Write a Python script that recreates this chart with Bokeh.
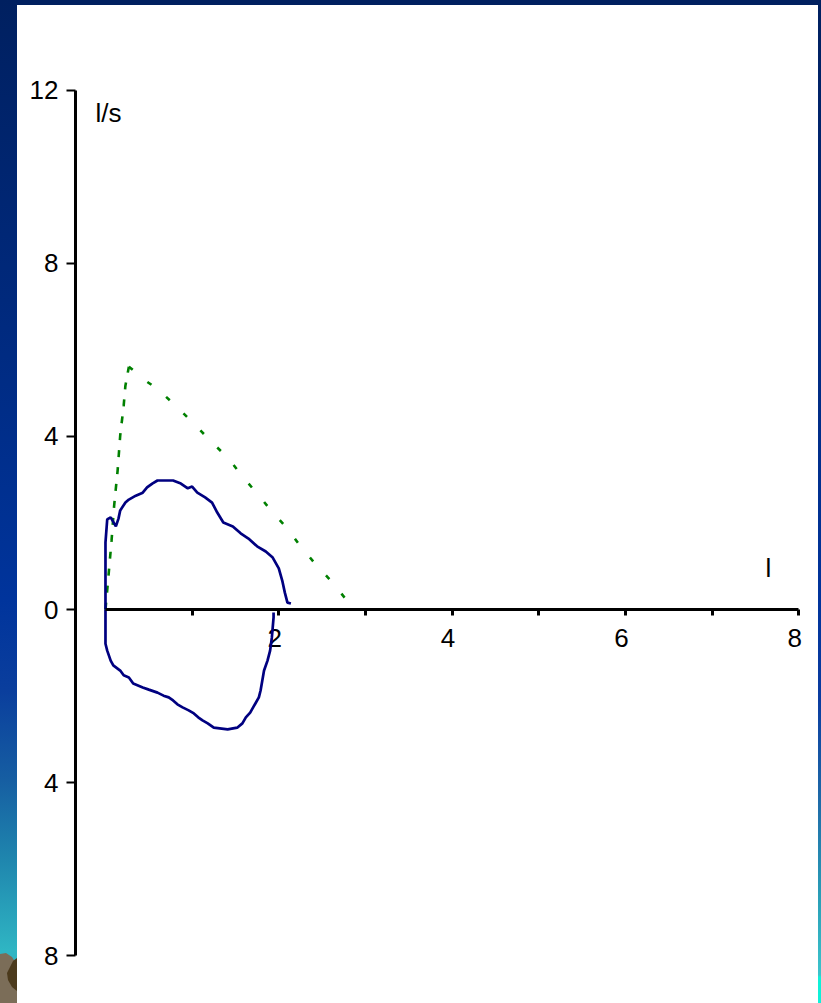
import numpy as np
from bokeh.plotting import figure
from bokeh.layouts import row, column
from bokeh.models import Range1d, FixedTicker, Label, Div
from bokeh.core.properties import value
from bokeh.embed import file_html
from bokeh.resources import INLINE

# ---------------- data ----------------
# expiratory limb (volume l, flow l/s)
exp_vol = [0.0, 0.0, 0.02, 0.06, 0.12, 0.15, 0.17, 0.23, 0.27, 0.35, 0.43, 0.48, 0.54, 0.60,
           0.78, 0.87, 0.95, 1.00, 1.06, 1.15, 1.23, 1.29, 1.36, 1.47, 1.56, 1.65, 1.75,
           1.85, 1.93, 2.00, 2.04, 2.07, 2.10, 2.14]
exp_flow = [0.0, 1.55, 2.08, 2.13, 1.92, 2.10, 2.29, 2.47, 2.54, 2.63, 2.70, 2.82, 2.91, 2.98,
            2.98, 2.91, 2.80, 2.84, 2.70, 2.59, 2.47, 2.24, 2.01, 1.92, 1.76, 1.64, 1.46,
            1.34, 1.20, 0.95, 0.67, 0.39, 0.16, 0.14]

# inspiratory limb
insp_vol = [0.0, 0.0, 0.02, 0.06, 0.09, 0.17, 0.21, 0.27, 0.32, 0.43, 0.50, 0.60, 0.67, 0.73,
            0.78, 0.83, 0.89, 0.96, 1.02, 1.07, 1.12, 1.18, 1.25, 1.41, 1.52, 1.58, 1.62,
            1.67, 1.73, 1.77, 1.79, 1.81, 1.83, 1.87, 1.90, 1.92, 1.93, 1.94, 1.94]
insp_flow = [0.0, -0.79, -0.95, -1.18, -1.29, -1.41, -1.52, -1.57, -1.71, -1.80, -1.85, -1.92,
             -1.99, -2.03, -2.10, -2.19, -2.26, -2.33, -2.40, -2.49, -2.56, -2.63, -2.73,
             -2.77, -2.73, -2.63, -2.49, -2.38, -2.17, -2.03, -1.87, -1.64, -1.41, -1.18,
             -0.95, -0.65, -0.42, -0.18, -0.07]

# predicted expiratory curve
pred_vol = [0.0, 0.03, 0.07, 0.10, 0.14, 0.17, 0.21, 0.23, 0.27, 0.42, 0.46, 0.61, 0.83, 1.04,
            1.23, 1.42, 1.59, 1.75, 1.93, 2.10, 2.25, 2.42, 2.60, 2.77, 2.80]
pred_flow = [0.0, 0.67, 1.59, 2.40, 3.21, 4.02, 4.71, 5.17, 5.61, 5.36, 5.29, 5.08, 4.67, 4.25,
             3.86, 3.49, 3.05, 2.68, 2.24, 1.87, 1.46, 1.06, 0.67, 0.25, 0.18]

y_ticks = [-8, -4, 0, 4, 8, 12]
y_tick_labels = ["8", "4", "0", "4", "8", "12"]
x_ticks = [1, 2, 3, 4, 5, 6, 7, 8]
x_label_vals = [2, 4, 6, 8]
x_label_text = ["2", "4", "6", "8"]

FONT = "Liberation Sans"
NAVY = "#000080"
GREEN = "#008000"

# ---------------- main chart ----------------
p = figure(width=801, height=998, output_backend="svg", toolbar_location=None,
           x_range=Range1d(-0.346, 8.229), y_range=Range1d(-8.408, 13.953),
           min_border_left=58, min_border_right=0, min_border_top=0, min_border_bottom=30)
p.background_fill_color = "white"
p.border_fill_color = "white"
p.outline_line_color = None
p.grid.visible = False

# y axis
ya = p.yaxis[0]
ya.ticker = FixedTicker(ticks=y_ticks)
ya.major_label_overrides = dict(zip(y_ticks, y_tick_labels))
ya.bounds = (min(y_ticks), max(y_ticks))
ya.axis_line_width = 3
ya.axis_line_color = "black"
ya.major_tick_line_width = 2
ya.major_tick_in = 0
ya.major_tick_out = 9
ya.minor_tick_line_color = None
ya.major_label_standoff = 8
ya.major_label_text_font = FONT
ya.major_label_text_font_size = "26px"
ya.major_label_text_color = "black"

# x axis placed at flow = 0
xa = p.xaxis[0]
xa.fixed_location = 0
xa.ticker = FixedTicker(ticks=x_ticks)
xa.major_label_overrides = {t: "" for t in x_ticks}
xa.major_label_text_font_size = "1px"
xa.major_label_standoff = 0
xa.bounds = (0, max(x_ticks))
xa.axis_line_width = 3
xa.axis_line_color = "black"
xa.major_tick_line_width = 3
xa.major_tick_in = 0
xa.major_tick_out = 6
xa.minor_tick_line_color = None

p.text(x=x_label_vals, y=[0] * len(x_label_vals), text=x_label_text,
       text_font=value(FONT), text_font_size="26px", text_color="black",
       text_align="center", text_baseline="alphabetic", y_offset=28, x_offset=-4)

# curves
pk = int(np.argmax(pred_flow))
p.line(pred_vol[:pk + 1], pred_flow[:pk + 1], line_color=GREEN, line_width=2.6, line_dash="7 10")
p.line(pred_vol[pk:], pred_flow[pk:], line_color=GREEN, line_width=2.6, line_dash="5 19")
p.line(exp_vol, exp_flow, line_color=NAVY, line_width=2.7)
p.line(insp_vol, insp_flow, line_color=NAVY, line_width=2.7)

p.add_layout(Label(x=-0.115, y=11.48, text="l/s", text_font=FONT, text_font_size="26px",
                   text_color="black", text_baseline="alphabetic"))
p.add_layout(Label(x=7.617, y=0.95, text="l", text_font=FONT, text_font_size="26px",
                   text_color="black", text_baseline="alphabetic"))

# ---------------- decorative slide background (presentation frame) ----------------
H = 1003
left_stops = [(0, "#002060"), (300, "#00297c"), (600, "#00349c"), (690, "#0a3e9d"),
              (780, "#165ea2"), (860, "#1f86ae"), (950, "#2fb5c3"), (1003, "#2fb5c3")]
right_stops = [(0, "#002060"), (300, "#00297c"), (600, "#00349c"), (700, "#0a3ca0"),
               (800, "#1e6aa8"), (900, "#2aa0b8"), (975, "#3cc4cc"), (977, "#10f0d8"),
               (1003, "#10f0d8")]


def grad_svg(w, h, y0, stops, extra=""):
    st = "".join('<stop offset="%.4f" stop-color="%s"/>' % ((y - y0) / h, c) for y, c in stops)
    gid = "g%d" % w
    return ('<svg xmlns="http://www.w3.org/2000/svg" width="%d" height="%d" style="display:block">'
            '<defs><linearGradient id="%s" x1="0" y1="0" x2="0" y2="1">%s</linearGradient></defs>'
            '<rect x="0" y="0" width="%d" height="%d" fill="url(#%s)"/>%s</svg>'
            % (w, h, gid, st, w, h, gid, extra))


rock = ('<polygon points="0,954 6,953 12,957 17,965 17,1003 0,1003" fill="#7b6d58"/>'
        '<polygon points="17,958 13,961 7,973 8,980 12,987 17,991" fill="#4b3a1c"/>')

div_style = {"overflow": "hidden", "padding": "0", "margin": "0", "line-height": "0"}
left_div = Div(text=grad_svg(17, H, 0, left_stops, rock), width=17, height=H, margin=0,
               styles=div_style)
right_div = Div(text=grad_svg(3, 998, 5, right_stops), width=3, height=998, margin=0,
                styles=div_style)
top_div = Div(text="", width=804, height=5, margin=0,
              styles={"background": "#002060", "overflow": "hidden"})

layout = row(left_div, column(top_div, row(p, right_div, spacing=0), spacing=0), spacing=0)
open("out.html", "w").write(file_html(layout, INLINE))
